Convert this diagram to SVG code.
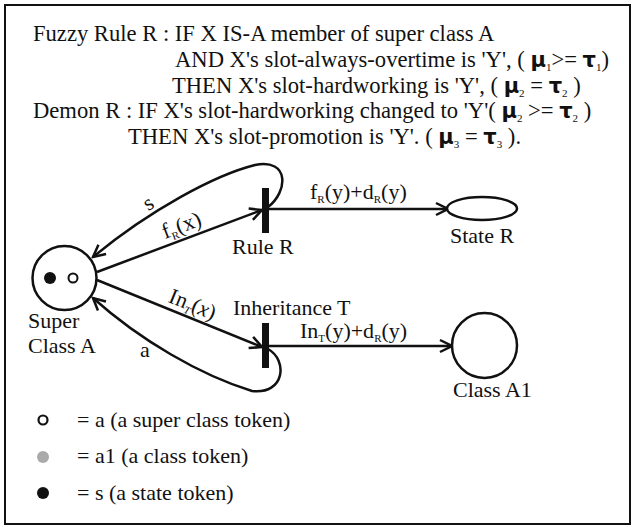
<svg xmlns="http://www.w3.org/2000/svg" width="636" height="527" viewBox="0 0 636 527">
<defs>
<style>
text{font-family:"Liberation Serif","Times New Roman",serif;font-size:22px;fill:#111}
.h{font-size:22.6px}
.g{font-family:"DejaVu Sans","Liberation Sans",sans-serif;font-weight:bold;font-size:21px}
.sub{font-size:11px}
.line{fill:none;stroke:#111;stroke-width:2.5}
.bar{fill:#111}
.node{fill:#fff;stroke:#111;stroke-width:2.5}
</style>
<marker id="arr" markerUnits="userSpaceOnUse" markerWidth="16" markerHeight="16" viewBox="0 0 16 16" refX="14" refY="8" orient="auto">
<path d="M2,2 L14,8 L2,14" fill="none" stroke="#111" stroke-width="2.5"/>
</marker>
</defs>
<rect x="0" y="0" width="636" height="527" fill="#fff"/>
<rect x="5" y="5" width="625" height="519" fill="none" stroke="#111" stroke-width="2"/>

<g id="header">
<text class="h" x="33" y="41">Fuzzy Rule R : IF X IS-A member of super class A</text>
<text class="h" x="175" y="67">AND X's slot-always-overtime is 'Y', ( <tspan class="g">μ</tspan><tspan class="sub" dy="4">1</tspan><tspan dy="-4">&gt;= </tspan><tspan class="g">τ</tspan><tspan class="sub" dy="4">1</tspan><tspan dy="-4">)</tspan></text>
<text class="h" x="172" y="93">THEN X's slot-hardworking is 'Y', (  <tspan class="g">μ</tspan><tspan class="sub" dy="4">2</tspan><tspan dy="-4"> = </tspan><tspan class="g">τ</tspan><tspan class="sub" dy="4">2</tspan><tspan dy="-4">  )</tspan></text>
<text class="h" x="33" y="118">Demon R : IF X's slot-hardworking changed to 'Y'(  <tspan class="g">μ</tspan><tspan class="sub" dy="4">2</tspan><tspan dy="-4"> &gt;= </tspan><tspan class="g">τ</tspan><tspan class="sub" dy="4">2</tspan><tspan dy="-4">  )</tspan></text>
<text class="h" x="128" y="144">THEN X's slot-promotion is 'Y'. ( <tspan class="g">μ</tspan><tspan class="sub" dy="4">3</tspan><tspan dy="-4"> = </tspan><tspan class="g">τ</tspan><tspan class="sub" dy="4">3</tspan><tspan dy="-4">  ).</tspan></text>
</g>

<g id="connectors">
<path class="line" d="M268,207 C288,192 290,158 255,165 C215,175 150,210 93,257" marker-end="url(#arr)"/>
<path class="line" d="M97,272 L262,210" marker-end="url(#arr)"/>
<path class="line" d="M269,209 L448,209" marker-end="url(#arr)"/>
<path class="line" d="M97,280 L262,347" marker-end="url(#arr)"/>
<path class="line" d="M268,349 C288,360 285,395 252,391 C200,375 140,340 93,298" marker-end="url(#arr)"/>
<path class="line" d="M269,346 L452,346" marker-end="url(#arr)"/>
<text x="152" y="209" transform="rotate(-32 152 209)" text-anchor="middle">s</text>
<text x="184" y="232" transform="rotate(-20.6 184 232)" text-anchor="middle">f<tspan class="sub" dy="4">R</tspan><tspan dy="-4">(x)</tspan></text>
<text x="190" y="311" transform="rotate(22 190 311)" text-anchor="middle">In<tspan class="sub" dy="4" font-style="italic">T</tspan><tspan dy="-4">(</tspan><tspan font-style="italic">x</tspan>)</text>
<text x="140" y="357">a</text>
<text x="310" y="199">f<tspan class="sub" dy="4">R</tspan><tspan dy="-4">(y)+d</tspan><tspan class="sub" dy="4">R</tspan><tspan dy="-4">(y)</tspan></text>
<text x="300" y="338">In<tspan class="sub" dy="4">T</tspan><tspan dy="-4">(y)+d</tspan><tspan class="sub" dy="4">R</tspan><tspan dy="-4">(y)</tspan></text>
</g>

<g id="superClassA">
<circle class="node" cx="64.5" cy="278" r="32"/>
<circle cx="50" cy="278" r="6" fill="#111"/>
<circle cx="73" cy="278" r="4.5" fill="#fff" stroke="#111" stroke-width="2"/>
<text x="28" y="328">Super</text>
<text x="28" y="353">Class A</text>
</g>

<g id="ruleR">
<rect class="bar" x="262" y="188" width="7" height="45"/>
<text x="232" y="254">Rule R</text>
</g>

<g id="inheritanceT">
<rect class="bar" x="262" y="323" width="7" height="45"/>
<text x="233" y="315">Inheritance T</text>
</g>

<g id="stateR">
<ellipse class="node" cx="482" cy="208.5" rx="35" ry="11.5"/>
<text x="482" y="243" text-anchor="middle">State R</text>
</g>

<g id="classA1">
<circle class="node" cx="484.5" cy="345.5" r="32.5"/>
<text x="453" y="397">Class A1</text>
</g>

<g id="legend">
<circle cx="43" cy="420" r="4.5" fill="#fff" stroke="#111" stroke-width="2.2"/>
<text x="77" y="427">= a (a super class token)</text>
<circle cx="43" cy="457" r="6" fill="#aaa"/>
<text x="77" y="463">= a1 (a class token)</text>
<circle cx="43" cy="493" r="6" fill="#111"/>
<text x="77" y="500">= s (a state token)</text>
</g>
</svg>
